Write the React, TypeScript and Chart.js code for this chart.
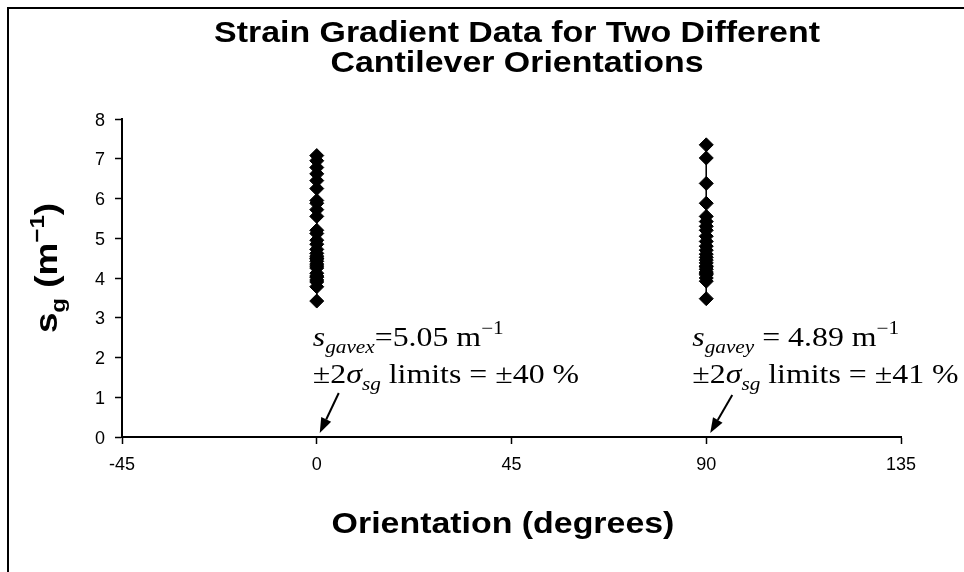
import React, { useEffect, useRef } from 'react';
import { Chart, registerables } from 'chart.js';

Chart.register(...registerables);

// ---------- data ----------
const orientationA = 0;
const orientationB = 90;
const sgAtOrientationA = [
  7.08, 6.95, 6.78, 6.62, 6.45, 6.25, 5.95, 5.88, 5.72, 5.55, 5.2, 5.12, 4.95, 4.85, 4.72,
  4.62, 4.55, 4.5, 4.48, 4.42, 4.35, 4.3, 4.25, 4.12, 4.05, 4.02, 3.95, 3.9, 3.78, 3.42,
];
const sgAtOrientationB = [
  7.35, 7.02, 6.38, 5.88, 5.55, 5.42, 5.3, 5.2, 5.05, 4.92, 4.8, 4.7, 4.6, 4.52, 4.45,
  4.38, 4.3, 4.28, 4.22, 4.15, 4.12, 4.08, 4.0, 3.92, 3.48,
];
const xTickLabels = ['-45', '0', '45', '90', '135'];
const yTickLabels = ['0', '1', '2', '3', '4', '5', '6', '7', '8'];
const titleLines = ['Strain Gradient Data for Two Different', 'Cantilever Orientations'];
const xAxisTitle = 'Orientation (degrees)';
const annotationA = { sub: 'gavex', value: '=5.05 m', limits: ' limits = \u00b140 %' };
const annotationB = { sub: 'gavey', value: ' = 4.89 m', limits: ' limits = \u00b141 %' };

// ---------- text helpers ----------
type Seg = { text: string; font: string; dy?: number };

function segWidth(ctx: CanvasRenderingContext2D, segs: Seg[]) {
  let w = 0;
  for (const s of segs) {
    ctx.font = s.font;
    w += ctx.measureText(s.text).width;
  }
  return w;
}

function drawRich(
  ctx: CanvasRenderingContext2D,
  segs: Seg[],
  x: number,
  y: number,
  sx: number,
  align: 'left' | 'center' | 'right' = 'left'
) {
  ctx.save();
  ctx.fillStyle = '#000';
  ctx.textBaseline = 'alphabetic';
  ctx.textAlign = 'left';
  const w = segWidth(ctx, segs) * sx;
  const x0 = align === 'center' ? x - w / 2 : align === 'right' ? x - w : x;
  ctx.translate(x0, y);
  ctx.scale(sx, 1);
  let cx = 0;
  for (const s of segs) {
    ctx.font = s.font;
    ctx.fillText(s.text, cx, s.dy || 0);
    cx += ctx.measureText(s.text).width;
  }
  ctx.restore();
}

function drawArrow(ctx: CanvasRenderingContext2D, x1: number, y1: number, x2: number, y2: number) {
  const ang = Math.atan2(y2 - y1, x2 - x1);
  const head = 15;
  const half = 5.5;
  const bx = x2 - head * Math.cos(ang);
  const by = y2 - head * Math.sin(ang);
  ctx.save();
  ctx.strokeStyle = '#000';
  ctx.fillStyle = '#000';
  ctx.lineWidth = 2;
  ctx.beginPath();
  ctx.moveTo(x1, y1);
  ctx.lineTo(bx, by);
  ctx.stroke();
  ctx.beginPath();
  ctx.moveTo(x2, y2);
  ctx.lineTo(bx + half * Math.sin(ang), by - half * Math.cos(ang));
  ctx.lineTo(bx - half * Math.sin(ang), by + half * Math.cos(ang));
  ctx.closePath();
  ctx.fill();
  ctx.restore();
}

const SANS = 'Arial, "Liberation Sans", sans-serif';
const SERIF = '"Times New Roman", "Liberation Serif", serif';

const decorPlugin = {
  id: 'decor',
  beforeDraw(chart: any) {
    const ctx: CanvasRenderingContext2D = chart.ctx;
    ctx.save();
    ctx.fillStyle = '#fff';
    ctx.fillRect(0, 0, chart.width, chart.height);
    ctx.strokeStyle = '#000';
    ctx.lineWidth = 2;
    ctx.beginPath();
    ctx.moveTo(8, chart.height);
    ctx.lineTo(8, 8);
    ctx.lineTo(chart.width, 8);
    ctx.stroke();
    ctx.restore();
  },
  afterDraw(chart: any) {
    const ctx: CanvasRenderingContext2D = chart.ctx;
    const xs = chart.scales.x;
    const ys = chart.scales.y;
    const area = chart.chartArea;

    // title
    const tFont = `bold 30px ${SANS}`;
    drawRich(ctx, [{ text: titleLines[0], font: tFont }], 517, 42, 1.13, 'center');
    drawRich(ctx, [{ text: titleLines[1], font: tFont }], 517, 72, 1.13, 'center');

    // tick labels
    const tickFont = `18px ${SANS}`;
    xs.ticks.forEach((t: any, i: number) => {
      const px = xs.getPixelForValue(t.value);
      drawRich(ctx, [{ text: xTickLabels[i] ?? String(t.value), font: tickFont }], px, area.bottom + 33, 1.0, 'center');
    });
    ys.ticks.forEach((t: any, i: number) => {
      const py = ys.getPixelForValue(t.value);
      drawRich(ctx, [{ text: yTickLabels[i] ?? String(t.value), font: tickFont }], area.left - 17, py + 6.5, 1.0, 'right');
    });

    // x axis title
    drawRich(ctx, [{ text: xAxisTitle, font: `bold 30px ${SANS}` }], 503, 533, 1.13, 'center');

    // y axis title (rotated)
    {
      const big = `bold 32px ${SANS}`;
      const small = `bold 21px ${SANS}`;
      const segs: Seg[] = [
        { text: 's', font: big },
        { text: 'g', font: small, dy: 8 },
        { text: ' (m', font: big },
        { text: '\u22121', font: small, dy: -13 },
        { text: ')', font: big },
      ];
      ctx.save();
      const w = segWidth(ctx, segs) * 1.15;
      ctx.translate(57, 268);
      ctx.rotate(-Math.PI / 2);
      ctx.translate(-w / 2, 0);
      ctx.scale(1.15, 1);
      ctx.fillStyle = '#000';
      ctx.textBaseline = 'alphabetic';
      ctx.textAlign = 'left';
      let cx = 0;
      for (const s of segs) {
        ctx.font = s.font;
        ctx.fillText(s.text, cx, s.dy || 0);
        cx += ctx.measureText(s.text).width;
      }
      ctx.restore();
    }

    // annotations
    const SX = 1.18;
    const big = `27px ${SERIF}`;
    const bigI = `italic 27px ${SERIF}`;
    const smallI = `italic 18px ${SERIF}`;
    const small = `18px ${SERIF}`;
    const ann = (a: typeof annotationA, x: number) => {
      drawRich(
        ctx,
        [
          { text: 's', font: bigI },
          { text: a.sub, font: smallI, dy: 7 },
          { text: a.value, font: big },
          { text: '\u22121', font: small, dy: -12 },
        ],
        x,
        346,
        SX
      );
      drawRich(
        ctx,
        [
          { text: '\u00b12', font: big },
          { text: '\u03c3', font: bigI },
          { text: 'sg', font: smallI, dy: 7 },
          { text: a.limits, font: big },
        ],
        x,
        383,
        SX
      );
    };
    const pA = xs.getPixelForValue(orientationA);
    const pB = xs.getPixelForValue(orientationB);
    ann(annotationA, pA - 4);
    ann(annotationB, pB - 14);
    drawArrow(ctx, pA + 22, 393, pA + 3, area.bottom - 4);
    drawArrow(ctx, pB + 26, 395, pB + 4, area.bottom - 4);
  },
};

export default function App() {
  const ref = useRef<HTMLCanvasElement | null>(null);

  useEffect(() => {
    if (!ref.current) return;
    const mk = (x: number, arr: number[]) => arr.map((v) => ({ x, y: v }));
    const style = {
      showLine: true,
      borderColor: '#000',
      borderWidth: 1,
      backgroundColor: '#000',
      pointStyle: 'rectRot',
      pointRadius: 7,
      pointBorderWidth: 1,
      pointBorderColor: '#000',
      pointBackgroundColor: '#000',
    };
    const chart = new Chart(ref.current, {
      type: 'scatter',
      data: {
        datasets: [
          { data: mk(orientationA, sgAtOrientationA), ...style },
          { data: mk(orientationB, sgAtOrientationB), ...style },
        ],
      },
      options: {
        responsive: false,
        animation: false,
        devicePixelRatio: 1,
        layout: { padding: { left: 122, right: 63, top: 119, bottom: 135 }, autoPadding: false },
        plugins: { legend: { display: false }, tooltip: { enabled: false }, title: { display: false } },
        scales: {
          x: {
            type: 'linear',
            min: -45,
            max: 135,
            ticks: { display: false, stepSize: 45 },
            grid: { drawOnChartArea: false, drawTicks: true, tickLength: 7, color: '#000', tickWidth: 1.5 },
            border: { display: true, color: '#000', width: 2 },
            afterFit: (s: any) => {
              s.height = 0;
            },
          },
          y: {
            type: 'linear',
            min: 0,
            max: 8,
            ticks: { display: false, stepSize: 1 },
            grid: { drawOnChartArea: false, drawTicks: true, tickLength: 7, color: '#000', tickWidth: 1.5 },
            border: { display: true, color: '#000', width: 2 },
            afterFit: (s: any) => {
              s.width = 0;
            },
          },
        },
      },
      plugins: [decorPlugin],
    } as any);
    return () => chart.destroy();
  }, []);

  return (
    <div style={{ position: 'fixed', left: 0, top: 0, width: 964, height: 572, background: '#fff' }}>
      <canvas ref={ref} width={964} height={572} style={{ width: 964, height: 572, display: 'block' }} />
    </div>
  );
}
